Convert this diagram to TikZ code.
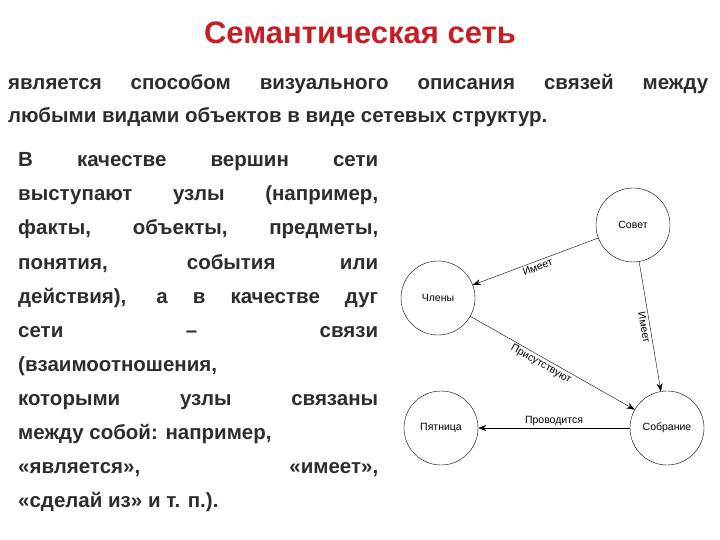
\documentclass[tikz,border=0pt]{standalone}
\usepackage{fontspec}
\setmainfont{Liberation Sans}
\newfontfamily\diagfont{Liberation Sans}
\usetikzlibrary{arrows.meta}
\definecolor{titlered}{RGB}{200,30,35}
\definecolor{bodygray}{RGB}{45,45,45}
\newcommand{\jline}[1]{\makebox[360pt][s]{#1}}
\begin{document}
\begin{tikzpicture}[x=1pt,y=-1pt,
    vertex/.style = {draw, circle, minimum size=74pt, inner sep=0pt, font=\diagfont\fontsize{10.5}{12}\selectfont},
    rel/.style = {-{Stealth[length=8pt,width=6pt]}},
    rellabel/.style = {font=\diagfont\fontsize{10.5}{12}\selectfont, inner sep=2pt},
    bodyline/.style = {anchor=base west, inner sep=0pt, text=bodygray, font=\bfseries\fontsize{20.5}{24}\selectfont}]
    \useasboundingbox (0,0) rectangle (720,540);
    % title and subtitle
    \node[text=titlered, font=\bfseries\fontsize{31}{36}\selectfont] (title) at (360,33) {Семантическая сеть};
    \node[bodyline] (sub1) at (8,90) {\makebox[700pt][s]{является способом визуального описания связей между}};
    \node[bodyline] (sub2) at (8,123) {любыми видами объектов в виде сетевых структур.};
    % left paragraph
    \node[bodyline] (p1) at (18,167) {\jline{В качестве вершин сети}};
    \node[bodyline] (p2) at (18,201) {\jline{выступают узлы (например,}};
    \node[bodyline] (p3) at (18,235) {\jline{факты, объекты, предметы,}};
    \node[bodyline] (p4) at (18,269) {\jline{понятия, события или}};
    \node[bodyline] (p5) at (18,303) {\jline{действия), а в качестве дуг}};
    \node[bodyline] (p6) at (18,337) {\jline{сети – связи}};
    \node[bodyline] (p7) at (18,371) {(взаимоотношения,};
    \node[bodyline] (p8) at (18,405) {\jline{которыми узлы связаны}};
    \node[bodyline] (p9) at (18,439) {между собой: например,};
    \node[bodyline] (p10) at (18,473) {\jline{«является», «имеет»,}};
    \node[bodyline] (p11) at (18,507) {«сделай из» и т. п.).};
    % semantic network
    \node[vertex] (sovet) at (633,225) {Совет};
    \node[vertex] (chleny) at (438,298) {Члены};
    \node[vertex] (pyatnica) at (441,428) {Пятница};
    \node[vertex] (sobranie) at (667,428) {Собрание};
    \draw[rel] (sovet) -- node[rellabel, sloped, below] {Имеет} (chleny);
    \draw[rel] (sovet) -- node[rellabel, rotate=-80, anchor=north] {Имеет} (sobranie);
    \draw[rel] (chleny) -- node[rellabel, sloped, below, pos=0.45] {Присутствуют} (sobranie);
    \draw[rel] (sobranie) -- node[rellabel, above] {Проводится} (pyatnica);
\end{tikzpicture}
\end{document}
